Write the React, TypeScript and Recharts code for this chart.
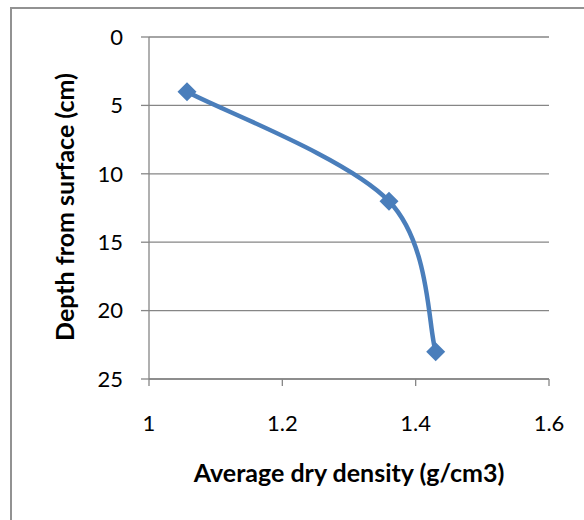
import React from 'react';
import { LineChart, Line, XAxis, YAxis, CartesianGrid } from 'recharts';

const density = [1.057, 1.36, 1.43];
const depth = [4, 12, 23];
const xTicks = [1, 1.2, 1.4, 1.6];
const yTicks = [0, 5, 10, 15, 20, 25];

const data = density.map((d, i) => ({ density: d, depth: depth[i] }));

const BLUE = '#4A7EBB';
const GREY = '#868686';
const FONT = 'Lato, "Open Sans", sans-serif';

// Excel style smoothed line (cardinal spline, 1/6 tangents)
const excelCurve = (context: any) => {
  let pts: number[][] = [];
  return {
    areaStart() {},
    areaEnd() {},
    lineStart() {
      pts = [];
    },
    point(x: number, y: number) {
      pts.push([+x, +y]);
    },
    lineEnd() {
      if (!pts.length) return;
      context.moveTo(pts[0][0], pts[0][1]);
      for (let i = 0; i < pts.length - 1; i++) {
        const p0 = pts[i - 1] || pts[i];
        const p1 = pts[i];
        const p2 = pts[i + 1];
        const p3 = pts[i + 2] || p2;
        context.bezierCurveTo(
          p1[0] + (p2[0] - p0[0]) / 6,
          p1[1] + (p2[1] - p0[1]) / 6,
          p2[0] - (p3[0] - p1[0]) / 6,
          p2[1] - (p3[1] - p1[1]) / 6,
          p2[0],
          p2[1]
        );
      }
    },
  };
};

const Diamond = (props: any) => {
  const { cx, cy, index } = props;
  const r = 9.5;
  return (
    <polygon
      key={`d-${index}`}
      points={`${cx},${cy - r} ${cx + r},${cy} ${cx},${cy + r} ${cx - r},${cy}`}
      fill={BLUE}
    />
  );
};

const App: React.FC = () => {
  return (
    <div style={{ position: 'absolute', left: 0, top: 0, width: 584, height: 520, overflow: 'hidden', background: '#fff', fontFamily: FONT }}>
      {/* chart frame, only left and top edges visible */}
      <div style={{ position: 'absolute', left: 10, top: 7, width: 640, height: 600, borderLeft: '2px solid #929292', borderTop: '2px solid #929292' }} />

      <LineChart width={584} height={520} data={data} margin={{ top: 37, right: 35, bottom: 101, left: 89 }}>
        <CartesianGrid vertical={false} stroke={GREY} strokeWidth={1.3} />
        <XAxis
          dataKey="density"
          type="number"
          domain={[1, 1.6]}
          ticks={xTicks}
          height={40}
          stroke={GREY}
          strokeWidth={1.3}
          tickSize={7}
          tickMargin={29}
          tick={{ fill: '#000', fontSize: 22, fontFamily: FONT }}
        />
        <YAxis
          dataKey="depth"
          type="number"
          reversed
          domain={[0, 25]}
          ticks={yTicks}
          width={60}
          stroke={GREY}
          strokeWidth={1.3}
          tickSize={8}
          tickMargin={18}
          tick={{ fill: '#000', fontSize: 22, fontFamily: FONT }}
        />
        <Line
          dataKey="depth"
          type={excelCurve as any}
          stroke={BLUE}
          strokeWidth={4.5}
          dot={Diamond}
          activeDot={false}
          isAnimationActive={false}
        />
      </LineChart>

      <div style={{ position: 'absolute', left: 149, width: 400, top: 457, textAlign: 'center', fontSize: 25, fontWeight: 'bold', color: '#000', whiteSpace: 'nowrap' }}>
        Average dry density (g/cm3)
      </div>
      <div
        style={{
          position: 'absolute',
          left: 64,
          top: 207,
          transform: 'translate(-50%, -50%) rotate(-90deg)',
          whiteSpace: 'nowrap',
          fontSize: 25,
          fontWeight: 'bold',
          color: '#000',
        }}
      >
        Depth from surface (cm)
      </div>
    </div>
  );
};

export default App;
